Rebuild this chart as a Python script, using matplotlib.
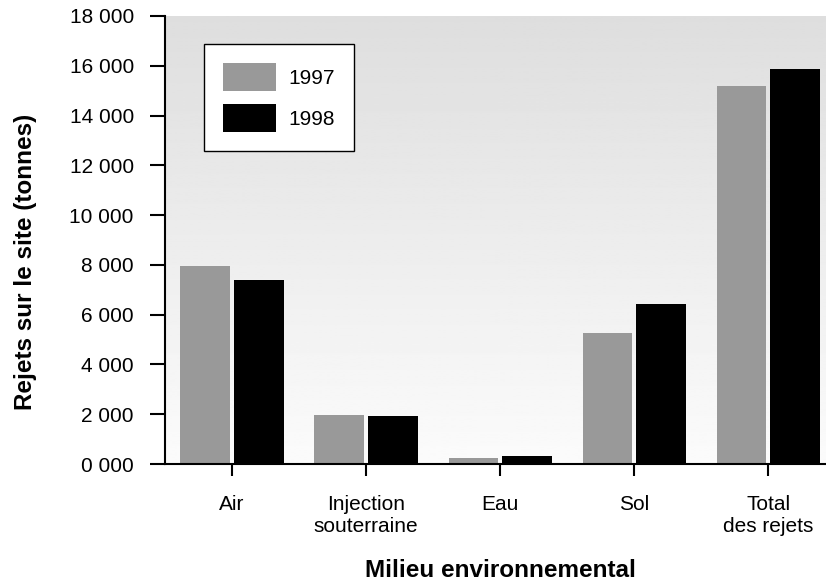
import numpy as np
import matplotlib
matplotlib.use("Agg")
import matplotlib.pyplot as plt

## Plot styling
matplotlib.rcParams["font.family"] = ["Liberation Sans", "DejaVu Sans"]
matplotlib.rcParams["font.size"] = 15
matplotlib.rcParams["axes.linewidth"] = 1.5
matplotlib.rcParams["xtick.major.size"] = 8.5
matplotlib.rcParams["ytick.major.size"] = 10.5
matplotlib.rcParams["xtick.major.width"] = 1.5
matplotlib.rcParams["ytick.major.width"] = 1.5

# data
categories = ["Air", "Injection\nsouterraine", "Eau", "Sol", "Total\ndes rejets"]
series_names = ["1997", "1998"]
values_1997 = [7950, 1960, 240, 5250, 15200]
values_1998 = [7400, 1920, 320, 6420, 15880]
ytick_values = [0, 2000, 4000, 6000, 8000, 10000, 12000, 14000, 16000, 18000]
ytick_labels = ["0 000", "2 000", "4 000", "6 000", "8 000", "10 000",
                "12 000", "14 000", "16 000", "18 000"]

fig = plt.figure(figsize=(8.26, 5.81), dpi=100)
ax = fig.add_axes([165/826, 1 - 464/581, (826-165)/826, (464-16)/581])

x = np.arange(len(categories))
bw = 0.37
ax.bar(x - 0.2, values_1997, bw, color="#999999", label=series_names[0], zorder=2)
ax.bar(x + 0.2, values_1998, bw, color="#000000", label=series_names[1], zorder=2)

ax.set_xlim(-0.5, 4.43)
ax.set_ylim(0, 18000)

# gradient background inside the axes
grad = np.linspace(0.87, 0.985, 256).reshape(-1, 1)
ax.imshow(grad, cmap="gray", vmin=0, vmax=1, aspect="auto",
          extent=(-0.5, 4.43, 0, 18000), origin="upper", zorder=0)

ax.set_xticks(x)
ax.set_xticklabels(categories)
ax.set_yticks(ytick_values)
ax.set_yticklabels(ytick_labels)
ax.tick_params(axis="x", pad=13.5)
ax.tick_params(axis="y", pad=12)

ax.spines["top"].set_visible(False)
ax.spines["right"].set_visible(False)

ax.set_ylabel("Rejets sur le site (tonnes)", fontsize=17.5, fontweight="bold")
ax.yaxis.set_label_coords(-0.194, 0.451)
ax.set_xlabel("Milieu environnemental", fontsize=17.5, fontweight="bold")
ax.xaxis.set_label_coords(0.507, -0.213)

leg = ax.legend(loc="upper left", bbox_to_anchor=(0.059, 0.9375), borderaxespad=0,
                fancybox=False, shadow=False, framealpha=1, edgecolor="black",
                handlelength=2.55, handleheight=1.7, handletextpad=0.62,
                labelspacing=0.62, borderpad=0.9)
leg.get_frame().set_linewidth(1.0)

plt.savefig("out.png", dpi=100)
